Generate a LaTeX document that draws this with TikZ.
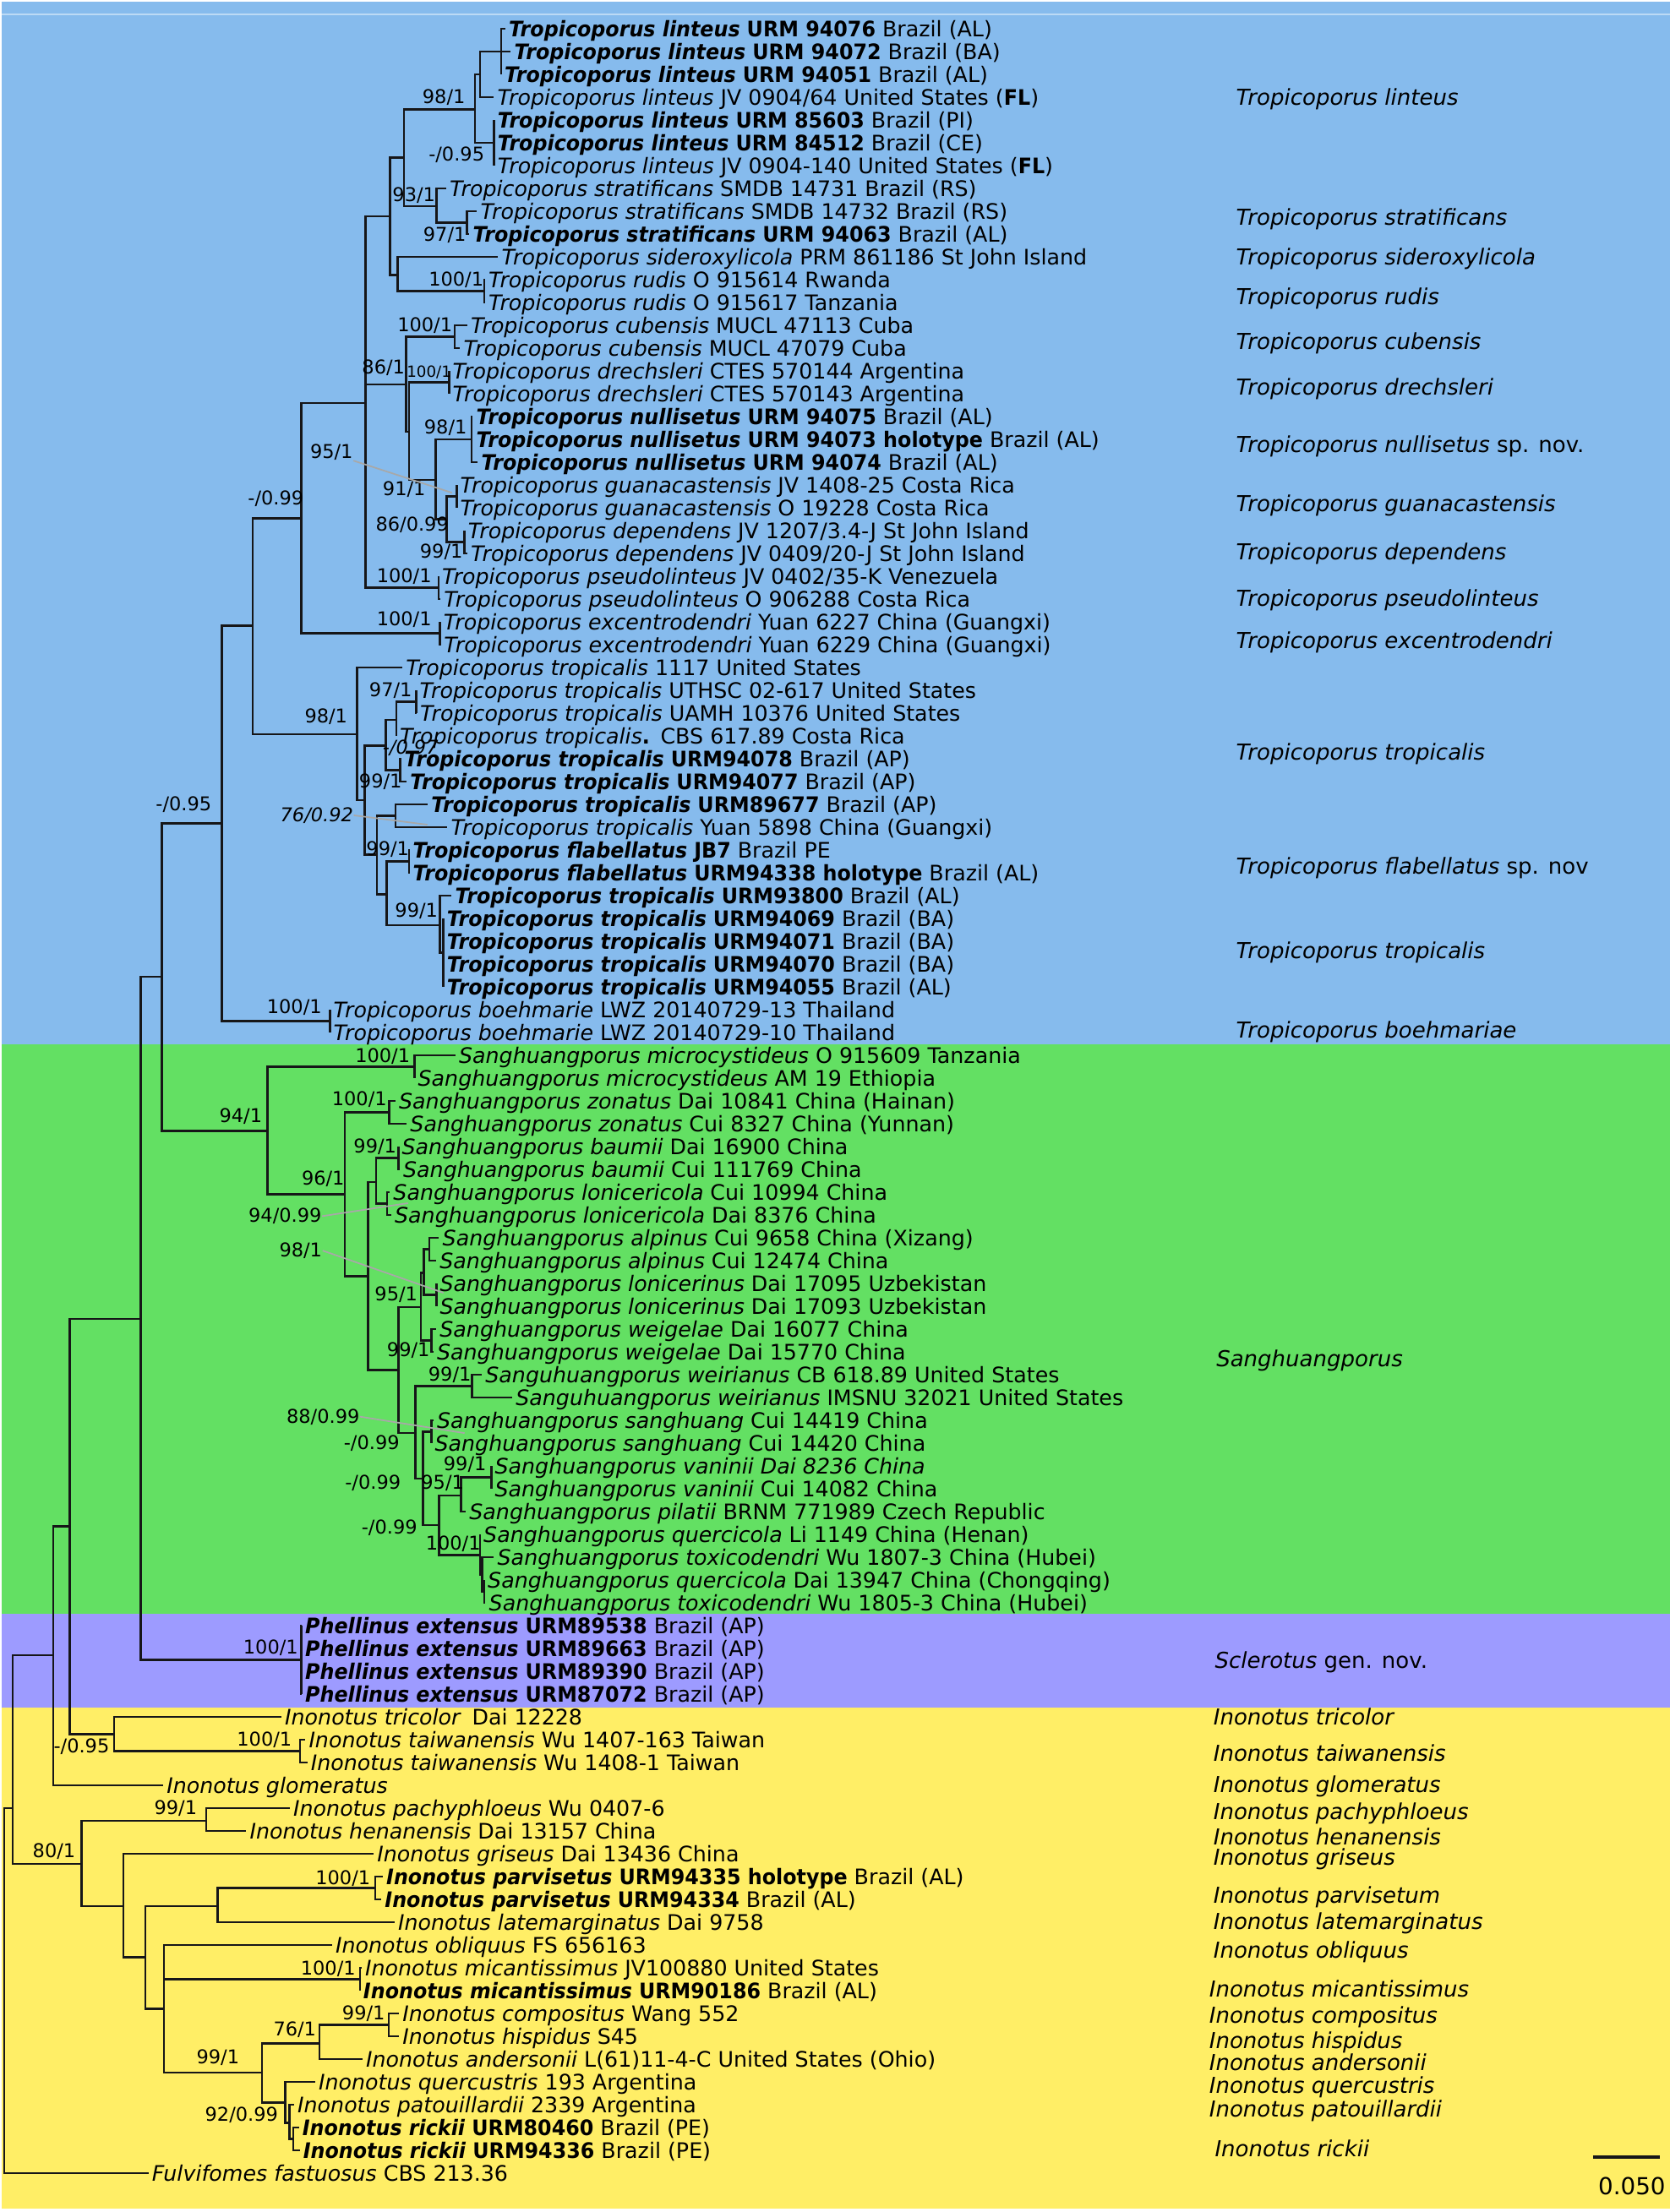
\documentclass[tikz,border=0pt]{standalone}
\usepackage{fontspec}
\setmainfont{DejaVu Sans}[BoldFeatures={FakeStretch=0.94},BoldItalicFeatures={FakeStretch=0.94}]
\definecolor{bandblue}{RGB}{134,187,237}
\definecolor{bandgreen}{RGB}{99,224,99}
\definecolor{bandviolet}{RGB}{157,155,255}
\definecolor{bandyellow}{RGB}{255,238,102}
\definecolor{ink}{RGB}{22,22,24}
\definecolor{leadgray}{RGB}{168,168,168}
\newcommand{\boldsp}[1]{\textbf{\textit{#1}}}

\begin{document}
\begin{tikzpicture}[
  x=0.01cm,y=-0.27cm,
  branch/.style={draw=ink,line width=.7pt},
  leaf/.style={anchor=west,inner xsep=1pt,inner ysep=0pt,text height=5.3pt,
               text depth=0pt,font=\fontsize{7.2}{8.6}\selectfont},
  clade/.style={anchor=west,inner sep=0pt,text height=5.4pt,text depth=0pt,
                font=\fontsize{7.4}{9}\selectfont\itshape},
  supp/.style={inner sep=0pt,font=\fontsize{6.4}{7.5}\selectfont},
  suppit/.style={supp,font=\fontsize{6.4}{7.5}\selectfont\itshape},
  leader/.style={draw=leadgray,line width=.5pt}
]
\useasboundingbox (0,-0.2593) rectangle (1977,96.7037);

% Coloured bands behind the clades.
\fill[bandblue]   (2,-0.185) rectangle (1977,45.52);
\fill[bandgreen]  (2,45.52)  rectangle (1977,70.48);
\fill[bandviolet] (2,70.48)  rectangle (1977,74.59);
\fill[bandyellow] (2,74.59)  rectangle (1977,96.56);
\draw[white!45!bandblue,line width=.4pt] (2,0.37)--(1977,0.37);

% Terminal labels: Tropicoporus.
\node[leaf] (l1)  at (598.2,1)  {\boldsp{Tropicoporus linteus} \textbf{URM 94076} Brazil (AL)};
\node[leaf] (l2)  at (604.8,2)  {\boldsp{Tropicoporus linteus} \textbf{URM 94072} Brazil (BA)};
\node[leaf] (l3)  at (593.3,3)  {\boldsp{Tropicoporus linteus} \textbf{URM 94051} Brazil (AL)};
\node[leaf] (l4)  at (584.8,4)  {\textit{Tropicoporus linteus} JV 0904/64 United States (\textbf{FL})};
\node[leaf] (l5)  at (585,5)    {\boldsp{Tropicoporus linteus} \textbf{URM 85603} Brazil (PI)};
\node[leaf] (l6)  at (585,6)    {\boldsp{Tropicoporus linteus} \textbf{URM 84512} Brazil (CE)};
\node[leaf] (l7)  at (585,7)    {\textit{Tropicoporus linteus} JV 0904-140 United States (\textbf{FL})};
\node[leaf] (l8)  at (528.2,8)  {\textit{Tropicoporus stratificans} SMDB 14731 Brazil (RS)};
\node[leaf] (l9)  at (564.8,9)  {\textit{Tropicoporus stratificans} SMDB 14732 Brazil (RS)};
\node[leaf] (l10) at (555.8,10) {\boldsp{Tropicoporus stratificans} \textbf{URM 94063} Brazil (AL)};
\node[leaf] (l11) at (589.8,11) {\textit{Tropicoporus sideroxylicola} PRM 861186 St John Island};
\node[leaf] (l12) at (574.2,12) {\textit{Tropicoporus rudis} O 915614 Rwanda};
\node[leaf] (l13) at (574.2,13) {\textit{Tropicoporus rudis} O 915617 Tanzania};
\node[leaf] (l14) at (553.2,14) {\textit{Tropicoporus cubensis} MUCL 47113 Cuba};
\node[leaf] (l15) at (544.8,15) {\textit{Tropicoporus cubensis} MUCL 47079 Cuba};
\node[leaf] (l16) at (531.7,16) {\textit{Tropicoporus drechsleri} CTES 570144 Argentina};
\node[leaf] (l17) at (531.7,17) {\textit{Tropicoporus drechsleri} CTES 570143 Argentina};
\node[leaf] (l18) at (559.8,18) {\boldsp{Tropicoporus nullisetus} \textbf{URM 94075} Brazil (AL)};
\node[leaf] (l19) at (559.8,19) {\boldsp{Tropicoporus nullisetus} \textbf{URM 94073 holotype} Brazil (AL)};
\node[leaf] (l20) at (565.8,20) {\boldsp{Tropicoporus nullisetus} \textbf{URM 94074} Brazil (AL)};
\node[leaf] (l21) at (540.7,21) {\textit{Tropicoporus guanacastensis} JV 1408-25 Costa Rica};
\node[leaf] (l22) at (540.7,22) {\textit{Tropicoporus guanacastensis} O 19228 Costa Rica};
\node[leaf] (l23) at (550,23)   {\textit{Tropicoporus dependens} JV 1207/3.4-J St John Island};
\node[leaf] (l24) at (553.2,24) {\textit{Tropicoporus dependens} JV 0409/20-J St John Island};
\node[leaf] (l25) at (519.3,25) {\textit{Tropicoporus pseudolinteus} JV 0402/35-K Venezuela};
\node[leaf] (l26) at (521.5,26) {\textit{Tropicoporus pseudolinteus} O 906288 Costa Rica};
\node[leaf] (l27) at (521,27)   {\textit{Tropicoporus excentrodendri} Yuan 6227 China (Guangxi)};
\node[leaf] (l28) at (521.5,28) {\textit{Tropicoporus excentrodendri} Yuan 6229 China (Guangxi)};
\node[leaf] (l29) at (476.5,29) {\textit{Tropicoporus tropicalis} 1117 United States};
\node[leaf] (l30) at (492.7,30) {\textit{Tropicoporus tropicalis} UTHSC 02-617 United States};
\node[leaf] (l31) at (493.2,31) {\textit{Tropicoporus tropicalis} UAMH 10376 United States};
\node[leaf] (l32) at (469.3,32) {\textit{Tropicoporus tropicalis}\textbf{.}\enspace CBS 617.89 Costa Rica};
\node[leaf] (l33) at (474.8,33) {\boldsp{Tropicoporus tropicalis} \textbf{URM94078} Brazil (AP)};
\node[leaf] (l34) at (481.5,34) {\boldsp{Tropicoporus tropicalis} \textbf{URM94077} Brazil (AP)};
\node[leaf] (l35) at (506.5,35) {\boldsp{Tropicoporus tropicalis} \textbf{URM89677} Brazil (AP)};
\node[leaf] (l36) at (529.8,36) {\textit{Tropicoporus tropicalis} Yuan 5898 China (Guangxi)};
\node[leaf] (l37) at (484.8,37) {\boldsp{Tropicoporus flabellatus} \textbf{JB7} Brazil PE};
\node[leaf] (l38) at (484.8,38) {\boldsp{Tropicoporus flabellatus} \textbf{URM94338 holotype} Brazil (AL)};
\node[leaf] (l39) at (534.8,39) {\boldsp{Tropicoporus tropicalis} \textbf{URM93800} Brazil (AL)};
\node[leaf] (l40) at (525,40)   {\boldsp{Tropicoporus tropicalis} \textbf{URM94069} Brazil (BA)};
\node[leaf] (l41) at (525,41)   {\boldsp{Tropicoporus tropicalis} \textbf{URM94071} Brazil (BA)};
\node[leaf] (l42) at (525,42)   {\boldsp{Tropicoporus tropicalis} \textbf{URM94070} Brazil (BA)};
\node[leaf] (l43) at (525,43)   {\boldsp{Tropicoporus tropicalis} \textbf{URM94055} Brazil (AL)};
\node[leaf] (l44) at (390.7,44) {\textit{Tropicoporus boehmarie} LWZ 20140729-13 Thailand};
\node[leaf] (l45) at (390.7,45) {\textit{Tropicoporus boehmarie} LWZ 20140729-10 Thailand};

% Terminal labels: Sanghuangporus.
\node[leaf] (l46) at (539.2,46) {\textit{Sanghuangporus microcystideus} O 915609 Tanzania};
\node[leaf] (l47) at (490.7,47) {\textit{Sanghuangporus microcystideus} AM 19 Ethiopia};
\node[leaf] (l48) at (468.2,48) {\textit{Sanghuangporus zonatus} Dai 10841 China (Hainan)};
\node[leaf] (l49) at (481.5,49) {\textit{Sanghuangporus zonatus} Cui 8327 China (Yunnan)};
\node[leaf] (l50) at (471.7,50) {\textit{Sanghuangporus baumii} Dai 16900 China};
\node[leaf] (l51) at (473.2,51) {\textit{Sanghuangporus baumii} Cui 111769 China};
\node[leaf] (l52) at (461.5,52) {\textit{Sanghuangporus lonicericola} Cui 10994 China};
\node[leaf] (l53) at (463.2,53) {\textit{Sanghuangporus lonicericola} Dai 8376 China};
\node[leaf] (l54) at (519.8,54) {\textit{Sanghuangporus alpinus} Cui 9658 China (Xizang)};
\node[leaf] (l55) at (516.5,55) {\textit{Sanghuangporus alpinus} Cui 12474 China};
\node[leaf] (l56) at (516.7,56) {\textit{Sanghuangporus lonicerinus} Dai 17095 Uzbekistan};
\node[leaf] (l57) at (516.7,57) {\textit{Sanghuangporus lonicerinus} Dai 17093 Uzbekistan};
\node[leaf] (l58) at (516.5,58) {\textit{Sanghuangporus weigelae} Dai 16077 China};
\node[leaf] (l59) at (513.2,59) {\textit{Sanghuangporus weigelae} Dai 15770 China};
\node[leaf] (l60) at (570.5,60) {\textit{Sanguhuangporus weirianus} CB 618.89 United States};
\node[leaf] (l61) at (606.5,61) {\textit{Sanguhuangporus weirianus} IMSNU 32021 United States};
\node[leaf] (l62) at (513.2,62) {\textit{Sanghuangporus sanghuang} Cui 14419 China};
\node[leaf] (l63) at (510.7,63) {\textit{Sanghuangporus sanghuang} Cui 14420 China};
\node[leaf] (l64) at (581.7,64) {\textit{Sanghuangporus vaninii Dai 8236 China}};
\node[leaf] (l65) at (581.7,65) {\textit{Sanghuangporus vaninii} Cui 14082 China};
\node[leaf] (l66) at (551.5,66) {\textit{Sanghuangporus pilatii} BRNM 771989 Czech Republic};
\node[leaf] (l67) at (568.3,67) {\textit{Sanghuangporus quercicola} Li 1149 China (Henan)};
\node[leaf] (l68) at (584.8,68) {\textit{Sanghuangporus toxicodendri} Wu 1807-3 China (Hubei)};
\node[leaf] (l69) at (573.3,69) {\textit{Sanghuangporus quercicola} Dai 13947 China (Chongqing)};
\node[leaf] (l70) at (574.8,70) {\textit{Sanghuangporus toxicodendri} Wu 1805-3 China (Hubei)};

% Terminal labels: Sclerotus.
\node[leaf] (l71) at (357.2,71) {\boldsp{Phellinus extensus} \textbf{URM89538} Brazil (AP)};
\node[leaf] (l72) at (357.2,72) {\boldsp{Phellinus extensus} \textbf{URM89663} Brazil (AP)};
\node[leaf] (l73) at (357.2,73) {\boldsp{Phellinus extensus} \textbf{URM89390} Brazil (AP)};
\node[leaf] (l74) at (357.2,74) {\boldsp{Phellinus extensus} \textbf{URM87072} Brazil (AP)};

% Terminal labels: Inonotus and outgroup.
\node[leaf] (l75) at (333.2,75) {\textit{Inonotus tricolor}\enspace Dai 12228};
\node[leaf] (l76) at (361.5,76) {\textit{Inonotus taiwanensis} Wu 1407-163 Taiwan};
\node[leaf] (l77) at (363.8,77) {\textit{Inonotus taiwanensis} Wu 1408-1 Taiwan};
\node[leaf] (l78) at (193.2,78) {\textit{Inonotus glomeratus}};
\node[leaf] (l79) at (343.2,79) {\textit{Inonotus pachyphloeus} Wu 0407-6};
\node[leaf] (l80) at (291.5,80) {\textit{Inonotus henanensis} Dai 13157 China};
\node[leaf] (l81) at (442.5,81) {\textit{Inonotus griseus} Dai 13436 China};
\node[leaf] (l82) at (453.2,82) {\boldsp{Inonotus parvisetus} \textbf{URM94335 holotype} Brazil (AL)};
\node[leaf] (l83) at (451.5,83) {\boldsp{Inonotus parvisetus} \textbf{URM94334} Brazil (AL)};
\node[leaf] (l84) at (467.2,84) {\textit{Inonotus latemarginatus} Dai 9758};
\node[leaf] (l85) at (393.2,85) {\textit{Inonotus obliquus} FS 656163};
\node[leaf] (l86) at (428.2,86) {\textit{Inonotus micantissimus} JV100880 United States};
\node[leaf] (l87) at (426,87)   {\boldsp{Inonotus micantissimus} \textbf{URM90186} Brazil (AL)};
\node[leaf] (l88) at (472.5,88) {\textit{Inonotus compositus} Wang 552};
\node[leaf] (l89) at (472.5,89) {\textit{Inonotus hispidus} S45};
\node[leaf] (l90) at (429.2,90) {\textit{Inonotus andersonii} L(61)11-4-C United States (Ohio)};
\node[leaf] (l91) at (373.2,91) {\textit{Inonotus quercustris} 193 Argentina};
\node[leaf] (l92) at (348.2,92) {\textit{Inonotus patouillardii} 2339 Argentina};
\node[leaf] (l93) at (353.8,93) {\boldsp{Inonotus rickii} \textbf{URM80460} Brazil (PE)};
\node[leaf] (l94) at (354.8,94) {\boldsp{Inonotus rickii} \textbf{URM94336} Brazil (PE)};
\node[leaf] (l95) at (175.8,95) {\textit{Fulvifomes fastuosus} CBS 213.36};

% Internal nodes (x in px, y in rows).
\foreach \nm/\xx/\r in {
  P1/593.3/2, A1/568.3/3, B/585/6, A2/562.3/4.53, E/552.7/9.5, D/516.7/8.78,
  C/478.3/6.65, H/573.3/12.5, G/471/11.8, F/461.7/9.22, L/538.3/14.5,
  N/531.7/16.5, P/558.3/19, R/540.7/21.5, S/550/23.5, Q/529/22.5,
  O/515.7/20.78, M/484.3/18.66, J/481/16.59, K/519.3/25.5, I/432.7/17.4,
  U/521/27.5, T/356.7/22.46, Ya/492.7/30.5, Yb/469.3/31.3, Yc/474/33.5,
  Y/456.7/32.43, Za/468.3/35.5, Zb/484.3/37.5, Zd/525/41.5, Zc/521/40.3,
  Ze/457.7/38.94, Z/446/37.21, X/431.7/34.82, W/422.7/31.93, V/299.3/27.17,
  AB/390.7/44.5, AA/262.7/35.83,
  SB/490.7/46.5, SD/460.7/48.5, SH/471.7/50.5, SI/458.3/52.5, SF/445/51.55,
  SN/508.3/54.5, SO/516.7/56.5, SL/501.7/55.53, SM/510.7/58.5, SJ/498.3/57.04,
  SP/559/60.5, SR/510.7/62.5, SV/581.7/64.5, ST/546/65.3, SX/573.3/69.5,
  SW/571/68.75, SU/568.3/67.9, SS/520/66.6, SQ/501/64.56, SK/491.7/62.55,
  SG/471.7/59.8, SE/435.7/55.69, SC/408.3/52.1, SA/316.7/49.31,
  AC/191.7/42.56, AE/356.7/72.5, AD/166.7/57.56, AH/355/76.5, AG/135/75.75,
  AF/82.7/66.65, AI/63.3/72.3, AL/244.3/79.55, AP/444/82.5, AO/257.7/83.3,
  AR/426/86.5, AV/460/88.5, AT/378.3/89.31, AX/347.3/93.5, AW/342.7/92.8,
  AU/337.7/91.9, AS/310/90.6, AQ/194.3/87.8, AN/172.3/85.53, AM/146/83.29,
  AK/96.7/81.44, AJ/15/79, root/5/87}
  \coordinate (n\nm) at (\xx,\r);

% Branches, parent to child.
\foreach \pa/\ch in {
  nP1/l1.west, nP1/l2.west, nP1/l3.west, nA1/nP1, nA1/l4.west,
  nB/l5.west, nB/l6.west, nB/l7.west, nA2/nA1, nA2/nB,
  nE/l9.west, nE/l10.west, nD/l8.west, nD/nE, nC/nA2, nC/nD,
  nH/l12.west, nH/l13.west, nG/l11.west, nG/nH, nF/nC, nF/nG,
  nL/l14.west, nL/l15.west, nN/l16.west, nN/l17.west,
  nP/l18.west, nP/l19.west, nP/l20.west,
  nR/l21.west, nR/l22.west, nS/l23.west, nS/l24.west, nQ/nR, nQ/nS,
  nO/nP, nO/nQ, nM/nN, nM/nO, nJ/nL, nJ/nM,
  nK/l25.west, nK/l26.west, nI/nF, nI/nJ, nI/nK,
  nU/l27.west, nU/l28.west, nT/nI, nT/nU,
  nYa/l30.west, nYa/l31.west, nYb/nYa, nYb/l32.west,
  nYc/l33.west, nYc/l34.west, nY/nYb, nY/nYc,
  nZa/l35.west, nZa/l36.west, nZb/l37.west, nZb/l38.west,
  nZd/l40.west, nZd/l41.west, nZd/l42.west, nZd/l43.west,
  nZc/l39.west, nZc/nZd, nZe/nZb, nZe/nZc, nZ/nZa, nZ/nZe,
  nX/nY, nX/nZ, nW/l29.west, nW/nX, nV/nT, nV/nW,
  nAB/l44.west, nAB/l45.west, nAA/nV, nAA/nAB,
  nSB/l46.west, nSB/l47.west, nSD/l48.west, nSD/l49.west,
  nSH/l50.west, nSH/l51.west, nSI/l52.west, nSI/l53.west, nSF/nSH, nSF/nSI,
  nSN/l54.west, nSN/l55.west, nSO/l56.west, nSO/l57.west, nSL/nSN, nSL/nSO,
  nSM/l58.west, nSM/l59.west, nSJ/nSL, nSJ/nSM,
  nSP/l60.west, nSP/l61.west, nSR/l62.west, nSR/l63.west,
  nSV/l64.west, nSV/l65.west, nST/nSV, nST/l66.west,
  nSX/l69.west, nSX/l70.west, nSW/l68.west, nSW/nSX,
  nSU/l67.west, nSU/nSW, nSS/nST, nSS/nSU, nSQ/nSR, nSQ/nSS,
  nSK/nSP, nSK/nSQ, nSG/nSJ, nSG/nSK, nSE/nSF, nSE/nSG,
  nSC/nSD, nSC/nSE, nSA/nSB, nSA/nSC, nAC/nAA, nAC/nSA,
  nAE/l71.west, nAE/l72.west, nAE/l73.west, nAE/l74.west, nAD/nAC, nAD/nAE,
  nAH/l76.west, nAH/l77.west, nAG/l75.west, nAG/nAH, nAF/nAD, nAF/nAG,
  nAI/nAF, nAI/l78.west,
  nAL/l79.west, nAL/l80.west, nAP/l82.west, nAP/l83.west, nAO/nAP, nAO/l84.west,
  nAR/l86.west, nAR/l87.west, nAV/l88.west, nAV/l89.west, nAT/nAV, nAT/l90.west,
  nAX/l93.west, nAX/l94.west, nAW/l92.west, nAW/nAX, nAU/l91.west, nAU/nAW,
  nAS/nAT, nAS/nAU, nAQ/l85.west, nAQ/nAR, nAQ/nAS, nAN/nAO, nAN/nAQ,
  nAM/l81.west, nAM/nAN, nAK/nAL, nAK/nAM, nAJ/nAI, nAJ/nAK,
  nroot/nAJ, nroot/l95.west}
  \draw[branch] (\pa) |- (\ch);

% Support values (bootstrap / posterior probability).
\foreach \xx/\r/\lab [count=\i] in {
  525.5/4.0/{98/1}, 540.5/6.53/{-/0.95}, 490/8.32/{93/1}, 526.5/10.05/{97/1},
  540/12.02/{100/1}, 503/14.0/{100/1}, 454/15.85/{86/1}, 527.5/18.5/{98/1},
  326.5/21.6/{-/0.99}, 478.5/21.2/{91/1}, 488/22.73/{86/0.99},
  522.5/23.94/{99/1}, 478.5/24.99/{100/1}, 478.5/26.9/{100/1},
  386/31.16/{98/1}, 462.5/29.99/{97/1}, 450.5/34.0/{99/1}, 459/36.96/{99/1},
  493/39.68/{99/1}, 217.5/34.99/{-/0.95}, 348.5/43.91/{100/1},
  285/48.66/{94/1}, 453/46.04/{100/1}, 425.5/47.95/{100/1}, 382.5/51.4/{96/1},
  444/50.01/{99/1}, 469/56.47/{95/1}, 483.5/58.94/{99/1}, 532.5/59.99/{99/1},
  440/63.0/{-/0.99}, 441.5/64.74/{-/0.99}, 461/66.72/{-/0.99},
  550.5/63.95/{99/1}, 524/64.74/{95/1}, 536.5/67.4/{100/1},
  320.5/71.96/{100/1}, 313/76.0/{100/1}, 208/79.0/{99/1}, 64/80.9/{80/1},
  96.5/76.3/{-/0.95}, 406/82.09/{100/1}, 388.5/86.04/{100/1},
  430.5/87.99/{99/1}, 349/88.7/{76/1}, 258/89.93/{99/1}, 286/92.46/{92/0.99}}
  \node[supp] (bs\i) at (\xx,\r) {\lab};
\node[supp,font=\fontsize{5.2}{6}\selectfont] (bsdre) at (508,16.04) {100/1};
\node[suppit] (bstrop) at (486,32.52) {-/0.97};

% Values joined to their node by a grey leader.
\node[supp]   (bsgua) at (392.5,19.56) {95/1};
\node[suppit] (bsflab) at (375,35.48) {76/0.92};
\node[supp]   (bslonc) at (337.5,53.05) {94/0.99};
\node[supp]   (bslonr) at (356,54.56) {98/1};
\node[supp]   (bssang) at (382.5,61.84) {88/0.99};
\coordinate (ggua)  at (535,21.34);
\coordinate (gflab) at (506,35.89);
\coordinate (glonc) at (483,52.48);
\coordinate (glonr) at (525,56.41);
\coordinate (gsang) at (550,62.56);
\draw[leader] (bsgua.south east)--(ggua);
\draw[leader] (bsflab.east)--(gflab);
\draw[leader] (bslonc.east)--(glonc);
\draw[leader] (bslonr.east)--(glonr);
\draw[leader] (bssang.east)--(gsang);

% Species names at the right.
\node[clade] (r1)  at (1462.7,4.01)  {Tropicoporus linteus};
\node[clade] (r2)  at (1462.7,9.26)  {Tropicoporus stratificans};
\node[clade] (r3)  at (1462.7,11.0)  {Tropicoporus sideroxylicola};
\node[clade] (r4)  at (1462.7,12.73) {Tropicoporus rudis};
\node[clade] (r5)  at (1462.7,14.71) {Tropicoporus cubensis};
\node[clade] (r6)  at (1462.7,16.69) {Tropicoporus drechsleri};
\node[clade] (r7)  at (1462.7,19.22) {Tropicoporus nullisetus \upshape sp. nov.};
\node[clade] (r8)  at (1462.7,21.82) {Tropicoporus guanacastensis};
\node[clade] (r9)  at (1462.7,23.92) {Tropicoporus dependens};
\node[clade] (r10) at (1462.7,25.96) {Tropicoporus pseudolinteus};
\node[clade] (r11) at (1462.7,27.82) {Tropicoporus excentrodendri};
\node[clade] (r12) at (1462.7,32.7)  {Tropicoporus tropicalis};
\node[clade] (r13) at (1462.7,37.71) {Tropicoporus flabellatus \upshape sp. nov};
\node[clade] (r14) at (1462.7,41.42) {Tropicoporus tropicalis};
\node[clade] (r15) at (1462.7,44.89) {Tropicoporus boehmariae};
\node[clade] (r16) at (1439.4,59.3)  {Sanghuangporus};
\node[clade] (r17) at (1437.7,72.53) {Sclerotus \upshape gen. nov.};
\node[clade] (r18) at (1436,75.0)    {Inonotus tricolor};
\node[clade] (r19) at (1436,76.6)    {Inonotus taiwanensis};
\node[clade] (r20) at (1436,77.97)   {Inonotus glomeratus};
\node[clade] (r21) at (1436,79.15)   {Inonotus pachyphloeus};
\node[clade] (r22) at (1436,80.26)   {Inonotus henanensis};
\node[clade] (r23) at (1436,81.13)   {Inonotus griseus};
\node[clade] (r24) at (1436,82.8)    {Inonotus parvisetum};
\node[clade] (r25) at (1436,83.97)   {Inonotus latemarginatus};
\node[clade] (r26) at (1436,85.21)   {Inonotus obliquus};
\node[clade] (r27) at (1431,86.94)   {Inonotus micantissimus};
\node[clade] (r28) at (1431,88.06)   {Inonotus compositus};
\node[clade] (r29) at (1431,89.17)   {Inonotus hispidus};
\node[clade] (r30) at (1431,90.16)   {Inonotus andersonii};
\node[clade] (r31) at (1431,91.14)   {Inonotus quercustris};
\node[clade] (r32) at (1431,92.2)    {Inonotus patouillardii};
\node[clade] (r33) at (1437.7,93.93) {Inonotus rickii};

% Scale bar.
\draw[ink,line width=1.3pt] (1886,94.3)--(1965,94.3);
\node[inner sep=0pt,font=\fontsize{7.9}{9}\selectfont] (scalelab) at (1932,95.56) {0.050};

\end{tikzpicture}
\end{document}
